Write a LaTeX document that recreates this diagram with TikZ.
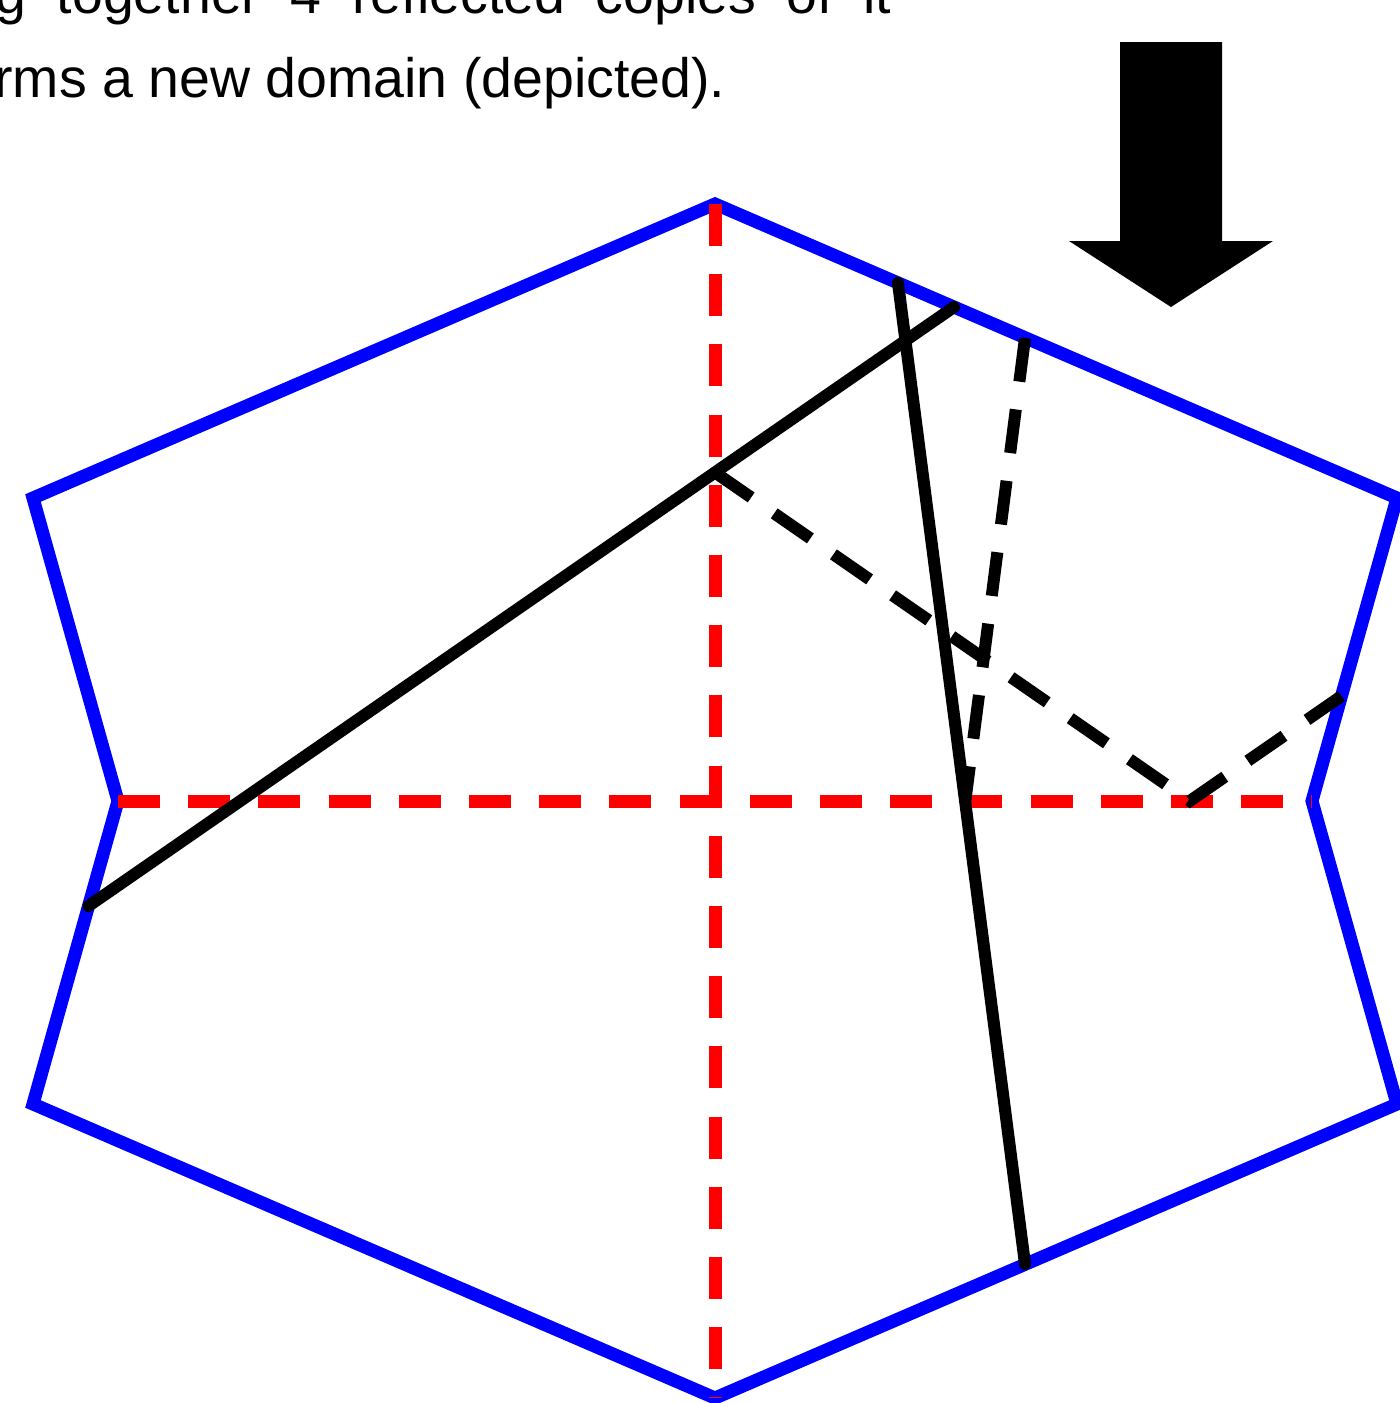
\documentclass[tikz,border=0pt]{standalone}
\usepackage{fontspec}
\setmainfont{Liberation Sans}
\begin{document}
\begin{tikzpicture}[x=0.5pt,y=-0.5pt,
  blueline/.style={draw=blue, line width=6.5pt, line join=miter},
  redline/.style={draw=red, line width=6.5pt, dash pattern=on 21pt off 14.1pt},
  ray/.style={draw=black, line width=6pt, line cap=round},
  rayrefl/.style={draw=black, line width=6pt, dash pattern=on 22pt off 14pt},
  caption/.style={anchor=base west, inner sep=0pt, font=\fontsize{27.75}{34}\selectfont}]
\useasboundingbox (0,0) rectangle (1400,1403);
\clip (0,0) rectangle (1400,1403);
% domain vertices
\coordinate (T)  at (715,204);
\coordinate (UR) at (1397,498);
\coordinate (NR) at (1312,801);
\coordinate (LR) at (1397,1104);
\coordinate (B)  at (715,1398);
\coordinate (LL) at (33,1104);
\coordinate (NL) at (118,801);
\coordinate (UL) at (33,498);
% ray end points
\coordinate (s1a) at (88.5,906);
\coordinate (s1b) at (954,307);
\coordinate (s2a) at (898,283);
\coordinate (s2b) at (1025,1264);
\coordinate (d1a) at (1025,338);
\coordinate (d1b) at (965.3,801);
\coordinate (d2a) at (715,472.4);
\coordinate (d2b) at (1189.8,801);
\coordinate (d2c) at (1341.5,696);
% text
\node[caption] (l1) at (-5,13) {\makebox[448pt][s]{g together 4 reflected copies of it}};
\node[caption] (l2) at (-6,97) {rms a new domain (depicted).};
% arrow
\fill[black] (1120,42) -- (1222,42) -- (1222,241) -- (1273,241) -- (1171,307) -- (1069,241) -- (1120,241) -- cycle;
% domain
\draw[blueline] (T) -- (UR) -- (NR) -- (LR) -- (B) -- (LL) -- (NL) -- (UL) -- cycle;
% mirror lines
\draw[redline] (T) -- (B);
\draw[redline] (NL) -- (NR);
% rays
\draw[ray] (s1a) -- (s1b);
\draw[ray] (s2a) -- (s2b);
\draw[rayrefl] (d1a) -- (d1b);
\draw[rayrefl] (d2a) -- (d2b) -- (d2c);
\end{tikzpicture}
\end{document}
